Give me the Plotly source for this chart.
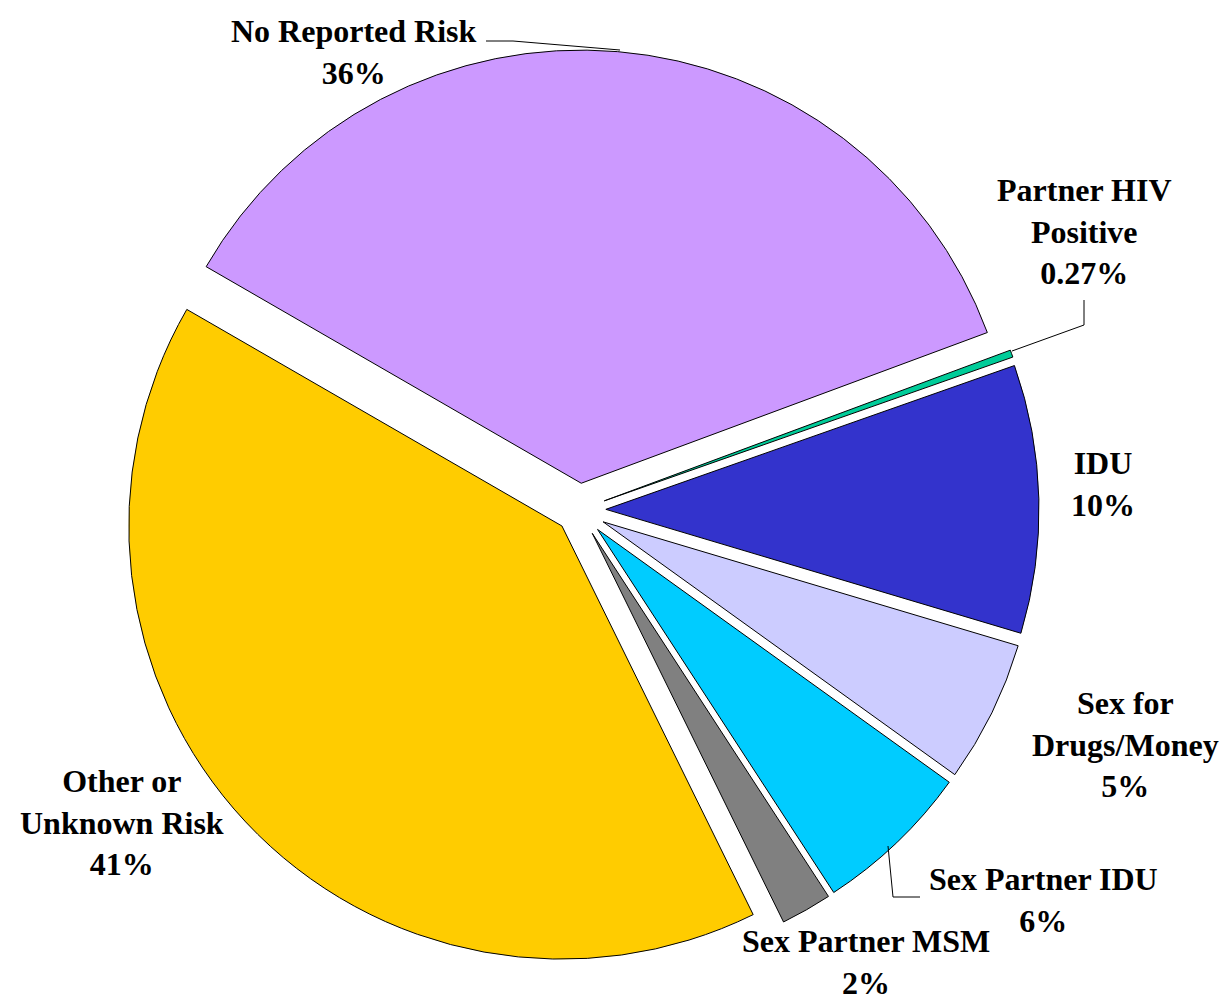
import plotly.graph_objects as go

# ---- data ----
categories = ["No Reported Risk", "Partner HIV Positive", "IDU", "Sex for Drugs/Money",
              "Sex Partner IDU", "Sex Partner MSM", "Other or Unknown Risk"]
values = [36.0, 0.27, 10.0, 5.3, 5.9, 1.9, 40.6]
pct_labels = ["36%", "0.27%", "10%", "5%", "6%", "2%", "41%"]
label_lines = ["No Reported Risk", "Partner HIV<br>Positive", "IDU", "Sex for<br>Drugs/Money",
               "Sex Partner IDU", "Sex Partner MSM", "Other or<br>Unknown Risk"]

# ---- styles ----
colors = ["#CC99FF", "#00CC99", "#3333CC", "#CCCCFF", "#00CCFF", "#808080", "#FFCC00"]
pulls = [0.062, 0.062, 0.062, 0.062, 0.062, 0.062, 0.054]

# page body has an 8px default margin; size the figure to fit inside the window
OFF = 8
W, H = 1230 - OFF, 1005 - OFF
FONT = "Liberation Serif, Times New Roman, serif"
FS = 32

def px(x):
    return (x - OFF) / W

def py(y):
    return 1 - (y - OFF) / H

fig = go.Figure(go.Pie(
    labels=categories,
    values=values,
    sort=False,
    direction="clockwise",
    rotation=-60,
    pull=pulls,
    marker=dict(colors=colors, line=dict(color="black", width=1)),
    textinfo="none",
    hoverinfo="label+percent",
    showlegend=False,
    domain=dict(x=[px(119), px(1039)], y=[py(970), py(50)]),
))

# label positions (page pixel centers)
label_pos = [(354, 52), (1084, 232), (1103, 484), (1125, 744),
             (1043, 899.5), (866, 962), (122, 822)]

for txt, pct, (x, y) in zip(label_lines, pct_labels, label_pos):
    fig.add_annotation(
        x=px(x), y=py(y), xref="paper", yref="paper",
        text="<b>" + txt + "<br>" + pct + "</b>",
        showarrow=False, xanchor="center", yanchor="middle",
        font=dict(family=FONT, size=FS, color="black"),
        align="center",
    )

# leader lines
leaders = [
    [(486, 41), (513, 41), (620, 50)],
    [(1084, 300), (1084, 325), (1012, 351)],
    [(888, 846), (893, 897), (920, 897)],
]
for pts in leaders:
    path = "M " + " L ".join(f"{px(a)},{py(b)}" for a, b in pts)
    fig.add_shape(type="path", path=path, xref="paper", yref="paper",
                  line=dict(color="black", width=1))

fig.update_layout(
    width=W, height=H,
    margin=dict(l=0, r=0, t=0, b=0),
    paper_bgcolor="white", plot_bgcolor="white",
)

fig.write_html("out.html")
